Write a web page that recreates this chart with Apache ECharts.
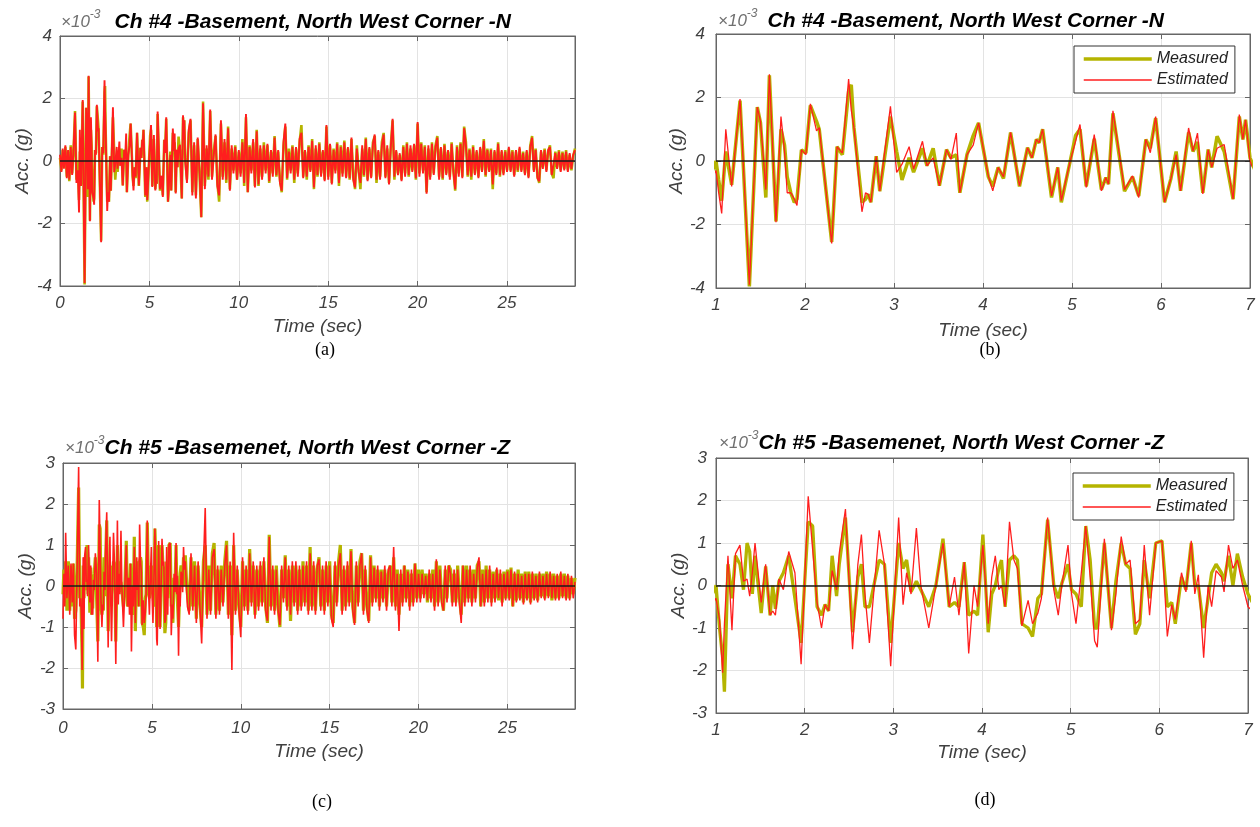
<!DOCTYPE html>
<html><head><meta charset="utf-8">
<script src="https://cdn.jsdelivr.net/npm/echarts@6/dist/echarts.min.js"></script>
<style>html,body{margin:0;padding:0;background:#fff}#c{width:1260px;height:827px}</style>
</head><body><div id="c"></div>
<script>
// ---------- DATA (values in units of 1e-3 g) ----------
// Channel 4, 0 - 7 s (high detail)
const ch4TimeA = [0,0.08,0.15,0.22,0.3,0.38,0.45,0.52,0.6,0.68,0.75,0.84,0.92,
1.00,1.03,1.064,1.11,1.176,1.27,1.375,1.464,1.5,1.56,1.6,1.674,1.73,1.77,1.8,1.84,1.88,1.91,1.96,2.01,
2.06,2.13,2.16,2.3,2.36,2.42,2.49,2.52,2.55,2.64,2.68,2.71,2.74,2.8,2.84,2.96,3.03,3.09,3.17,3.22,
3.32,3.37,3.44,3.51,3.59,3.64,3.7,3.74,3.82,3.89,3.95,4.06,4.11,4.17,4.23,4.31,4.41,4.5,4.55,4.6,
4.63,4.67,4.77,4.84,4.88,4.98,5.04,5.09,5.16,5.25,5.33,5.38,5.41,5.46,5.59,5.68,5.75,5.83,5.88,5.94,
6.04,6.11,6.17,6.22,6.31,6.36,6.41,6.47,6.53,6.57,6.63,6.71,6.81,6.88,6.92,6.95,7.0];
const ch4MeasA = [0.1,-0.3,0.35,-0.2,0.45,-0.5,0.3,-0.65,0.5,-0.4,0.2,1.6,-0.6,
0.0,-0.6,-1.25,0.3,-0.75,1.9,-3.95,1.7,1.2,-1.15,2.7,-1.9,1.0,0.5,-0.5,-1.0,-1.3,-1.2,0.35,0.25,
1.75,1.25,1.0,-2.55,0.45,0.2,2.2,2.4,1.05,-1.3,-1.2,-1.05,-1.3,0.15,-0.95,1.4,0.3,-0.6,0.1,-0.35,
0.4,-0.15,0.4,-0.78,0.36,0.1,0.2,-1.0,0.2,0.8,1.2,-0.5,-0.8,-0.2,-0.55,0.9,-0.8,0.42,0.1,0.68,
0.57,1.0,-1.15,-0.2,-1.3,0.0,0.8,1.0,-0.8,0.7,-0.9,-0.52,-0.73,1.5,-0.95,-0.5,-1.1,0.68,0.4,1.35,
-1.3,-0.57,0.3,-0.94,0.9,0.3,0.6,-1.0,0.36,-0.2,0.78,0.3,-1.2,1.4,0.68,1.3,0.1];
const ch4EstA = [0.2,-0.35,0.4,-0.25,0.5,-0.55,0.35,-0.6,0.45,-0.45,0.3,1.55,-0.7,
-0.3,-1.0,-1.65,1.0,-0.8,1.95,-3.9,1.7,1.25,-0.9,2.73,-1.93,1.4,0.3,-1.0,-1.0,-1.2,-1.4,0.35,0.2,
1.8,0.95,1.05,-2.6,0.45,0.25,2.58,1.6,1.05,-1.6,-1.0,-1.05,-1.3,0.15,-0.95,1.72,-0.36,-0.1,0.45,-0.25,
0.62,-0.15,0.1,-0.78,0.36,0.05,0.88,-1.0,0.2,0.5,1.2,-0.47,-0.94,-0.2,-0.5,0.9,-0.78,0.42,0.1,0.68,
0.57,1.0,-1.1,-0.2,-1.25,0.0,0.62,1.15,-0.83,0.83,-0.94,-0.52,-0.73,1.58,-0.9,-0.47,-1.15,0.68,0.26,1.4,
-1.3,-0.57,0.2,-0.94,1.04,0.31,0.88,-1.04,0.36,-0.2,0.4,0.52,-1.2,1.46,0.68,1.3,0.0];

// Shared sampling for 7.1 - 28.8 s (coarser reading)
const timeB = [7.1,7.2,7.3,7.4,7.5,7.6,7.7,7.8,7.9,8,
8.1,8.2,8.3,8.4,8.5,8.6,8.7,8.8,8.9,9,
9.1,9.2,9.3,9.4,9.5,9.6,9.7,9.8,9.9,10,
10.1,10.2,10.3,10.4,10.5,10.6,10.7,10.8,10.9,11,
11.1,11.2,11.3,11.4,11.5,11.6,11.7,11.8,11.9,12,
12.1,12.2,12.3,12.4,12.5,12.6,12.7,12.8,12.9,13,
13.1,13.2,13.3,13.4,13.5,13.6,13.7,13.8,13.9,14,
14.1,14.2,14.3,14.4,14.5,14.6,14.7,14.8,14.9,15,
15.1,15.2,15.3,15.4,15.5,15.6,15.7,15.8,15.9,16,
16.1,16.2,16.3,16.4,16.5,16.6,16.7,16.8,16.9,17,
17.1,17.2,17.3,17.4,17.5,17.6,17.7,17.8,17.9,18,
18.1,18.2,18.3,18.4,18.5,18.6,18.7,18.8,18.9,19,
19.1,19.2,19.3,19.4,19.5,19.6,19.7,19.8,19.9,20,
20.1,20.2,20.3,20.4,20.5,20.6,20.7,20.8,20.9,21,
21.1,21.2,21.3,21.4,21.5,21.6,21.7,21.8,21.9,22,
22.1,22.2,22.3,22.4,22.5,22.6,22.7,22.8,22.9,23,
23.1,23.2,23.3,23.4,23.5,23.6,23.7,23.8,23.9,24,
24.1,24.2,24.3,24.4,24.5,24.6,24.7,24.8,24.9,25,
25.1,25.2,25.3,25.4,25.5,25.6,25.7,25.8,25.9,26,
26.1,26.2,26.3,26.4,26.5,26.6,26.7,26.8,26.9,27,
27.1,27.2,27.3,27.4,27.5,27.6,27.7,27.8,27.9,28,
28.1,28.2,28.3,28.4,28.5,28.6,28.7,28.8];

const ch4MeasB = [-0.6,0.9,1.3,-1.0,0.5,-1.1,0.7,-0.4,-1.8,1.9,
-0.8,0.4,-0.6,1.6,-0.5,0.3,0.8,-0.7,-1.3,1.2,
-0.5,0.6,-0.7,1.1,-0.9,0.4,-0.3,0.5,-0.6,0.3,
-0.4,0.7,-0.8,1.4,-1.0,0.5,-0.3,0.6,-0.8,1.0,
-0.8,0.4,-0.5,0.6,-0.3,0.5,-0.7,0.3,-0.4,0.8,
-0.5,0.3,-0.6,-1.0,0.5,1.1,-0.6,0.4,-0.3,0.5,
-0.7,0.4,-0.4,0.6,1.15,-0.5,0.3,-0.6,0.5,-0.3,
0.7,-0.9,0.4,-0.5,0.6,-0.4,0.3,-0.6,1.1,-0.5,
0.5,-0.7,0.4,-0.3,0.6,-0.8,0.5,-0.4,0.65,-0.5,
0.4,-0.6,0.7,-0.5,-0.9,0.5,-0.3,-0.9,0.4,-0.5,
0.75,-0.6,0.4,-0.5,0.6,0.8,-0.7,0.3,-0.5,0.6,
0.9,-0.5,0.4,-0.7,0.5,1.3,-0.6,0.3,-0.4,0.2,
-0.6,0.5,-0.4,0.6,-0.5,0.4,-0.3,0.5,-0.6,1.2,
-0.4,0.6,-0.3,0.5,-1.0,0.4,-0.5,0.6,-0.4,0.5,
0.8,-0.5,0.4,-0.6,0.55,-0.4,0.3,-0.5,0.6,-0.3,
-0.95,0.5,-0.4,0.6,-0.5,1.1,0.6,-0.5,0.4,-0.6,
0.5,-0.4,0.3,-0.5,0.4,-0.3,0.7,-0.5,0.4,-0.3,
0.4,-0.9,0.3,-0.4,0.6,-0.5,0.3,-0.4,0.35,-0.3,
0.4,-0.3,0.35,-0.45,0.3,-0.35,0.4,-0.3,0.3,-0.4,
0.3,-0.5,0.5,0.8,-0.3,0.4,-0.5,-0.7,0.3,-0.2,
0.4,-0.3,0.3,0.5,-0.4,-0.55,0.3,-0.2,0.35,-0.3,
0.3,-0.25,0.35,-0.3,0.2,-0.3,0.15,0.4];
const ch4EstB = [-0.7,1.0,1.35,-1.1,0.6,-1.2,0.75,-0.3,-1.8,1.85,
-0.9,0.5,-0.5,1.65,-0.6,0.2,0.85,-0.8,-1.1,1.3,
-0.6,0.7,-0.6,1.05,-0.95,0.5,-0.4,0.45,-0.6,0.35,
-0.5,0.6,-0.7,1.5,-1.0,0.45,-0.4,0.7,-0.85,0.95,
-0.75,0.5,-0.6,0.5,-0.4,0.55,-0.65,0.35,-0.5,0.75,
-0.45,0.35,-0.7,-0.95,0.6,1.2,-0.55,0.3,-0.4,0.45,
-0.6,0.45,-0.5,0.7,0.9,-0.55,0.35,-0.5,0.45,-0.35,
0.65,-0.85,0.5,-0.45,0.55,-0.5,0.35,-0.65,1.15,-0.6,
0.55,-0.75,0.35,-0.4,0.55,-0.7,0.45,-0.5,0.6,-0.55,
0.45,-0.55,0.75,-0.6,-0.85,0.4,-0.35,-0.7,0.5,-0.45,
0.7,-0.65,0.45,-0.55,0.55,0.85,-0.6,0.35,-0.6,0.5,
0.85,-0.55,0.5,-0.75,0.45,1.35,-0.5,0.35,-0.45,0.25,
-0.65,0.45,-0.5,0.55,-0.45,0.5,-0.35,0.55,-0.55,1.25,
-0.5,0.55,-0.4,0.45,-1.05,0.5,-0.6,0.55,-0.45,0.45,
0.75,-0.6,0.45,-0.55,0.5,-0.45,0.35,-0.6,0.55,-0.35,
-0.9,0.45,-0.5,0.55,-0.55,1.05,0.5,-0.45,0.35,-0.5,
0.45,-0.45,0.35,-0.55,0.45,-0.35,0.65,-0.45,0.35,-0.35,
0.35,-0.75,0.35,-0.45,0.55,-0.45,0.35,-0.45,0.3,-0.35,
0.45,-0.35,0.3,-0.5,0.35,-0.3,0.45,-0.35,0.25,-0.45,
0.35,-0.55,0.45,0.75,-0.35,0.35,-0.55,-0.65,0.35,-0.25,
0.35,-0.35,0.35,0.45,-0.45,-0.5,0.25,-0.25,0.3,-0.35,
0.25,-0.3,0.3,-0.35,0.25,-0.25,0.2,0.35];

// Channel 5, 0 - 7 s (high detail)
const ch5TimeA = [0,0.05,0.1,0.15,0.22,0.3,0.38,0.45,0.52,0.58,0.65,0.72,0.8,0.88,0.94,
1.0,1.04,1.075,1.095,1.135,1.18,1.22,1.27,1.31,1.35,1.38,1.41,1.44,1.51,1.56,1.61,1.64,1.67,1.71,1.76,
1.82,1.89,1.96,2.04,2.09,2.14,2.19,2.23,2.27,2.31,2.36,2.39,2.46,2.54,2.6,2.64,2.68,2.73,2.84,2.9,
2.97,3.06,3.11,3.15,3.2,3.26,3.31,3.4,3.48,3.56,3.63,3.69,3.74,3.8,3.85,3.91,3.95,4.01,4.07,4.11,
4.15,4.19,4.22,4.26,4.31,4.36,4.4,4.45,4.52,4.57,4.63,4.67,4.74,4.81,4.86,4.9,4.97,5.01,5.06,5.12,
5.17,5.22,5.27,5.3,5.38,5.46,5.51,5.57,5.62,5.67,5.73,5.78,5.83,5.89,5.96,6.03,6.09,6.14,6.18,6.25,
6.3,6.36,6.4,6.44,6.5,6.55,6.59,6.64,6.7,6.73,6.78,6.83,6.88,6.94,7.0];
const ch5MeasA = [-0.2,0.4,-0.4,0.6,-0.6,0.6,-0.6,0.5,-0.5,0.55,-0.8,-0.6,0.6,2.4,-0.3,
0.0,-1.0,-1.7,-2.5,0.5,-0.3,0.7,0.5,-0.1,1.0,0.8,-0.2,0.7,-0.65,0.45,-0.7,0.0,-0.55,0.1,0.3,
0.7,-0.3,-1.35,1.5,1.4,-0.5,-0.7,-0.45,-0.6,0.7,-0.25,0.5,1.6,-1.1,0.2,0.5,-0.5,-0.5,0.6,0.5,
-1.35,1.0,0.4,0.6,-0.15,0.1,-0.1,-0.5,0.0,1.1,-0.5,-0.4,-0.5,0.55,-0.7,-0.6,-0.7,1.2,-1.1,-0.2,
0.0,0.4,0.6,-0.5,0.6,0.7,0.6,-0.9,-1.0,-1.2,-0.3,-0.2,1.55,0.0,-0.3,0.05,0.5,-0.1,-0.2,-0.5,
1.4,0.6,-1.0,-1.0,1.0,-1.0,0.1,1.0,0.5,0.4,-1.15,-0.9,0.6,-0.3,1.0,1.05,-0.5,-0.4,-0.9,0.2,
-0.1,1.0,0.0,0.0,-1.0,-0.3,0.3,0.5,0.3,0.1,0.7,0.0,0.75,0.2,-0.2];
const ch5EstA = [-0.8,0.3,-0.5,1.3,-0.3,0.5,-0.7,0.55,-0.4,0.55,-1.2,-1.55,0.6,2.9,-0.5,
-0.3,-0.8,-2.05,-0.9,0.7,-1.05,0.75,0.95,0.1,0.15,-0.25,0.3,1.0,-0.4,0.5,-0.7,-0.6,-0.7,0.15,-0.1,
0.8,0.3,-1.85,2.1,0.85,-0.4,-1.0,-0.45,-0.6,0.35,-0.1,0.75,1.8,-1.5,0.5,1.2,-0.2,-1.35,1.3,0.5,
-1.9,1.6,-0.45,0.3,-0.2,1.35,0.0,-1.0,0.0,1.0,-0.5,0.2,-0.7,0.55,-1.6,0.0,-0.5,0.95,-0.9,0.2,
0.7,-0.1,0.0,-0.5,1.5,0.6,0.4,-0.95,-0.35,-0.9,-0.65,-0.3,1.6,-0.1,-0.7,0.0,0.95,-0.2,-0.9,0.3,
1.4,0.2,-1.3,-1.45,1.1,-1.05,-0.2,1.15,0.5,0.6,-0.9,-0.8,0.95,-0.7,1.0,1.05,-1.2,-0.45,-0.8,0.3,
-0.15,1.05,-0.2,0.25,-1.7,0.0,-0.5,0.35,0.2,-0.15,0.95,0.4,0.6,0.0,-0.5];

const ch5MeasB = [-0.6,0.7,-0.5,0.6,-0.8,0.5,-0.4,-1.0,0.6,1.0,
-0.7,0.5,-0.6,0.8,1.05,-0.7,0.4,-0.6,0.5,-0.4,
0.6,1.1,-0.7,0.5,-1.2,1.0,-0.6,0.4,-0.5,-1.0,
0.6,-0.5,0.4,-0.6,0.9,-0.4,0.5,-0.7,0.4,-0.5,
0.5,-0.4,0.6,-0.5,-0.9,1.25,-0.5,0.4,-0.6,0.5,
-0.5,-1.0,0.4,-0.3,0.75,-0.5,0.4,-0.85,0.5,-0.4,
0.5,-0.6,0.4,-0.5,0.6,-0.4,0.5,-0.6,0.95,-0.5,
0.5,-0.6,0.4,0.7,-0.5,0.4,-0.6,0.5,-0.4,0.6,
-0.7,-0.9,0.5,-0.4,0.6,1.0,-0.6,0.4,-0.5,0.5,
-0.4,0.9,-0.5,-0.9,0.5,-0.4,0.6,0.8,-0.6,0.4,
-0.5,-0.85,0.75,-0.4,0.5,-0.3,0.4,-0.5,0.4,-0.3,
0.4,-0.5,0.3,0.5,-0.4,0.7,-0.5,0.4,-0.7,0.3,
-0.4,0.5,-0.3,0.4,-0.5,0.3,-0.4,0.55,-0.3,0.4,
-0.3,0.4,-0.2,0.3,-0.4,0.3,-0.3,0.4,-0.5,0.6,
-0.4,0.5,-0.3,-0.6,0.4,-0.3,0.5,0.4,-0.4,0.3,
-0.4,0.5,-0.3,-0.7,0.5,-0.4,0.5,-0.3,0.4,-0.4,
0.4,-0.3,0.5,0.6,-0.5,0.4,-0.4,0.5,-0.3,0.4,
-0.4,0.35,-0.3,0.4,-0.35,0.3,-0.4,0.35,-0.3,0.4,
-0.3,0.45,-0.5,0.3,-0.35,0.4,-0.3,0.3,-0.4,0.35,
-0.3,0.35,-0.4,0.3,-0.3,0.3,-0.35,0.3,-0.25,0.3,
-0.3,0.35,-0.25,0.3,-0.35,0.3,-0.3,0.25,-0.3,0.3,
-0.25,0.3,-0.3,0.25,-0.3,0.2,-0.2,0.2];
const ch5EstB = [-0.7,0.8,-0.6,0.5,-0.9,0.6,-0.5,-1.4,0.5,1.9,
-0.8,0.4,-0.7,0.7,0.9,-0.8,0.5,-0.7,0.4,-0.5,
0.5,1.0,-0.8,0.6,-2.05,1.3,-0.7,0.5,-0.6,-1.25,
0.7,-0.6,0.5,-0.7,0.8,-0.5,0.6,-0.8,0.5,-0.6,
0.6,-0.5,0.7,-0.6,-0.85,1.2,-0.6,0.5,-0.7,0.4,
-0.6,-0.95,0.5,-0.4,0.7,-0.6,0.5,-0.7,0.6,-0.5,
0.6,-0.7,0.5,-0.6,0.5,-0.5,0.6,-0.7,0.8,-0.6,
0.6,-0.7,0.5,0.65,-0.6,0.5,-0.7,0.6,-0.5,0.5,
-0.8,-1.0,0.6,-0.5,0.5,0.8,-0.7,0.5,-0.6,0.6,
-0.5,0.85,-0.6,-0.95,0.6,-0.5,0.5,0.8,-0.7,0.5,
-0.6,-0.9,0.7,-0.5,0.45,-0.4,0.5,-0.6,0.35,-0.4,
0.5,-0.6,0.4,0.5,-0.5,0.95,-0.6,0.3,-1.1,0.4,
-0.5,0.5,-0.4,0.35,-0.6,0.4,-0.5,0.55,-0.4,0.3,
-0.4,0.3,-0.3,0.25,-0.35,0.4,-0.4,0.3,-0.6,0.65,
-0.5,0.4,-0.4,-0.6,0.5,-0.4,0.5,0.3,-0.5,0.4,
-0.5,0.4,-0.4,-0.9,0.5,-0.5,0.4,-0.4,0.5,-0.5,
0.3,-0.4,0.45,0.7,-0.5,0.3,-0.5,0.4,-0.4,0.5,
-0.5,0.3,-0.4,0.45,-0.3,0.4,-0.5,0.3,-0.35,0.35,
-0.35,0.4,-0.5,0.35,-0.4,0.3,-0.35,0.25,-0.45,0.3,
-0.35,0.3,-0.45,0.35,-0.35,0.25,-0.4,0.35,-0.3,0.25,
-0.35,0.3,-0.3,0.35,-0.3,0.25,-0.35,0.3,-0.35,0.35,
-0.3,0.25,-0.35,0.3,-0.35,0.25,-0.3,0.1];

// Tick labels / axis ranges
const xTicksFull = [0,5,10,15,20,25];
const xMaxFull = 28.8;
const xTicksZoom = [1,2,3,4,5,6,7];
const yTicksCh4 = [-4,-2,0,2,4];
const yTicksCh5 = [-3,-2,-1,0,1,2,3];

const seriesNames = ['Measured','Estimated'];
const panelTitles = ['Ch #4 -Basement, North West Corner -N','Ch #4 -Basement, North West Corner -N',
  'Ch #5 -Basemenet, North West Corner -Z','Ch #5 -Basemenet, North West Corner -Z'];
const captions = ['(a)','(b)','(c)','(d)'];
const yName = 'Acc. (g)';
const xName = 'Time (sec)';

// ---------- BUILD ----------
function zip(t, v){ return t.map((x,i)=>[x, v[i]]); }
const ch4Meas = zip(ch4TimeA.concat(timeB), ch4MeasA.concat(ch4MeasB));
const ch4Est  = zip(ch4TimeA.concat(timeB), ch4EstA.concat(ch4EstB));
const ch5Meas = zip(ch5TimeA.concat(timeB), ch5MeasA.concat(ch5MeasB));
const ch5Est  = zip(ch5TimeA.concat(timeB), ch5EstA.concat(ch5EstB));

const FONT = '"Liberation Sans", Arial, Helvetica, sans-serif';
const YEL = '#b5b400', RED = '#ff1e1e';
const AX = '#666666', LBL = '#404040';

const panels = [
  {grid:{left:60, top:36, width:515, height:250}, xt:xTicksFull, xmax:xMaxFull, yt:yTicksCh4,
   meas:ch4Meas, est:ch4Est, mw:2.6, ew:1.9, yGap:28, xGap:31, yMargin:8, xMargin:9,
   title:{left:61, top:9, gap:14}, cap:[325,350]},
  {grid:{left:716, top:34, width:534, height:254}, xt:xTicksZoom, xmax:7, yt:yTicksCh4,
   meas:ch4Meas, est:ch4Est, mw:3.5, ew:1.3, yGap:26, xGap:33, yMargin:11, xMargin:9,
   title:{left:718, top:8, gap:10}, cap:[990,350], legend:{left:1074, top:46}},
  {grid:{left:63, top:463, width:512, height:246}, xt:xTicksFull, xmax:xMaxFull, yt:yTicksCh5,
   meas:ch5Meas, est:ch5Est, mw:3.2, ew:1.6, yGap:28, xGap:33, yMargin:8, xMargin:11,
   title:{left:65, top:435, gap:0}, cap:[322,802]},
  {grid:{left:716, top:458, width:532, height:255}, xt:xTicksZoom, xmax:7, yt:yTicksCh5,
   meas:ch5Meas, est:ch5Est, mw:3.3, ew:1.3, yGap:26, xGap:30, yMargin:9, xMargin:9,
   title:{left:719, top:430, gap:0}, cap:[985,800], legend:{left:1073, top:473}}
];

const labelStyle = {color:LBL, fontStyle:'italic', fontSize:17, fontFamily:FONT};
const nameStyle = {color:LBL, fontStyle:'italic', fontSize:19, fontFamily:FONT};

const grid = [], xAxis = [], yAxis = [], series = [], title = [], legend = [], graphic = [];
panels.forEach((p, i) => {
  grid.push(Object.assign({show:true, borderColor:AX, borderWidth:1, backgroundColor:'#fff'}, p.grid));
  const xi = p.xt[1]-p.xt[0], yi = p.yt[1]-p.yt[0];
  const base = (extra) => Object.assign({
    type:'value', gridIndex:i,
    axisLine:{show:true, onZero:false, lineStyle:{color:AX, width:1}},
    axisTick:{show:true, inside:true, length:5, lineStyle:{color:AX}},
  }, extra);
  xAxis.push(base({position:'bottom', min:p.xt[0], max:p.xmax, interval:xi,
    axisLabel:Object.assign({margin:p.xMargin, showMaxLabel: p.xmax === p.xt[p.xt.length-1]}, labelStyle),
    splitLine:{show:true, lineStyle:{color:'#e3e3e3', width:1}},
    name:xName, nameLocation:'middle', nameGap:p.xGap, nameTextStyle:nameStyle}));
  yAxis.push(base({position:'left', min:p.yt[0], max:p.yt[p.yt.length-1], interval:yi,
    axisLabel:Object.assign({margin:p.yMargin}, labelStyle),
    splitLine:{show:true, lineStyle:{color:'#e3e3e3', width:1}},
    name:yName, nameLocation:'middle', nameGap:p.yGap, nameTextStyle:nameStyle}));
});
panels.forEach((p, i) => {
  const xi = p.xt[1]-p.xt[0], yi = p.yt[1]-p.yt[0];
  xAxis.push({type:'value', gridIndex:i, position:'top', min:p.xt[0], max:p.xmax, interval:xi,
    axisLine:{show:true, onZero:false, lineStyle:{color:AX}}, axisTick:{show:true, inside:true, length:5, lineStyle:{color:AX}},
    axisLabel:{show:false}, splitLine:{show:false}});
  yAxis.push({type:'value', gridIndex:i, position:'right', min:p.yt[0], max:p.yt[p.yt.length-1], interval:yi,
    axisLine:{show:true, onZero:false, lineStyle:{color:AX}}, axisTick:{show:true, inside:true, length:5, lineStyle:{color:AX}},
    axisLabel:{show:false}, splitLine:{show:false}});
});

// series order: (b),(d) first so legends take their styles
[1,3,0,2].forEach(i => {
  const p = panels[i];
  series.push({type:'line', name:seriesNames[0], xAxisIndex:i, yAxisIndex:i, data:p.meas,
    symbol:'none', showSymbol:false, clip:true, animation:false, z:2,
    lineStyle:{color:YEL, width:p.mw}, itemStyle:{color:YEL}});
  series.push({type:'line', name:seriesNames[1], xAxisIndex:i, yAxisIndex:i, data:p.est,
    symbol:'none', showSymbol:false, clip:true, animation:false, z:3,
    lineStyle:{color:RED, width:p.ew}, itemStyle:{color:RED},
    markLine:{silent:true, symbol:'none', animation:false, label:{show:false},
      lineStyle:{color:'#1a1a1a', width:1.6, type:'solid'}, emphasis:{disabled:true},
      data:[{yAxis:0}]}});
});

panels.forEach((p, i) => {
  title.push({left:p.title.left, top:p.title.top, padding:0,
    text:'{x|×10}{s|-3}{g|}{t|' + panelTitles[i] + '}',
    textStyle:{fontWeight:'normal', rich:{
      x:{fontSize:17, color:'#707070', fontStyle:'italic', fontWeight:'normal', fontFamily:FONT, lineHeight:26},
      s:{fontSize:12, color:'#707070', fontStyle:'italic', fontWeight:'normal', fontFamily:FONT, verticalAlign:'top', lineHeight:14},
      g:{width:p.title.gap},
      t:{fontSize:21, color:'#000', fontStyle:'italic', fontWeight:'bold', fontFamily:FONT, lineHeight:26}
    }}});
  if (p.legend) {
    legend.push({left:p.legend.left, top:p.legend.top, orient:'vertical',
      data:[{name:seriesNames[0], lineStyle:{width:3.5, color:YEL}}, {name:seriesNames[1], lineStyle:{width:1.3, color:RED}}],
      itemWidth:68, itemHeight:14, itemGap:5, padding:[5,7,5,8], selectedMode:false,
      itemStyle:{opacity:0, borderWidth:0},
      backgroundColor:'#fff', borderColor:'#333', borderWidth:1, borderRadius:0,
      textStyle:{color:'#222', fontStyle:'italic', fontSize:16, fontFamily:FONT}});
  }
  graphic.push({type:'text', x:p.cap[0], y:p.cap[1], silent:true,
    style:{text:captions[i], fill:'#000', font:'18px "Liberation Serif", "DejaVu Serif", serif',
      align:'center', verticalAlign:'middle'}});
});

const chart = echarts.init(document.getElementById('c'), null, {renderer:'canvas'});
chart.setOption({animation:false, backgroundColor:'#fff', grid, xAxis, yAxis, series, title, legend, graphic});
</script>
</body></html>
